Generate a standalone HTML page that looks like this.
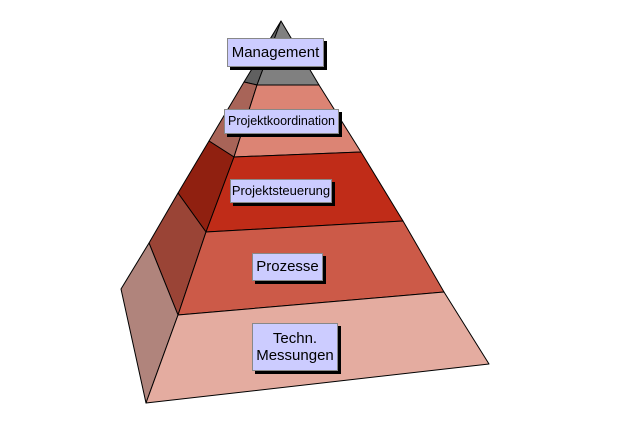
<!DOCTYPE html>
<html><head><meta charset="utf-8"><style>
body{margin:0;background:#fff;width:640px;height:427px;overflow:hidden;position:relative;font-family:"Liberation Sans",Arial,sans-serif}
.b{position:absolute;background:#ccccff;border:1px solid #888;box-shadow:3px 3px 0 #000;box-sizing:border-box;display:flex;align-items:center;justify-content:center;text-align:center;color:#000;line-height:1.15;white-space:nowrap}
</style></head><body>
<svg width="640" height="427" style="position:absolute;left:0;top:0" stroke="#000" stroke-width="1" stroke-linejoin="round">
<polygon points="281,21 244,82 257,85" fill="#606060"/>
<polygon points="281,21 257,85 319,85" fill="#808080"/>
<polygon points="244,82 257,85 234,157 209,141" fill="#a86458"/>
<polygon points="257,85 319,85 361,152 234,157" fill="#dc8474"/>
<polygon points="209,141 234,157 206,232 178,193" fill="#902010"/>
<polygon points="234,157 361,152 403,221 206,232" fill="#c02c18"/>
<polygon points="178,193 206,232 178,315 149,243" fill="#9a4436"/>
<polygon points="206,232 403,221 444,292 178,315" fill="#cc5a48"/>
<polygon points="149,243 178,315 146,403 121,289" fill="#b0847c"/>
<polygon points="178,315 444,292 489,364 146,403" fill="#e4aca0"/>
</svg>
<div class="b" style="left:227px;top:38px;width:97px;height:29px;font-size:15px">Management</div>
<div class="b" style="left:224px;top:109px;width:115px;height:25px;font-size:12.5px">Projektkoordination</div>
<div class="b" style="left:230px;top:179px;width:102px;height:24px;font-size:13px">Projektsteuerung</div>
<div class="b" style="left:252px;top:253px;width:71px;height:28px;font-size:15px">Prozesse</div>
<div class="b" style="left:252px;top:323px;width:86px;height:48px;font-size:15px">Techn.<br>Messungen</div>
</body></html>
